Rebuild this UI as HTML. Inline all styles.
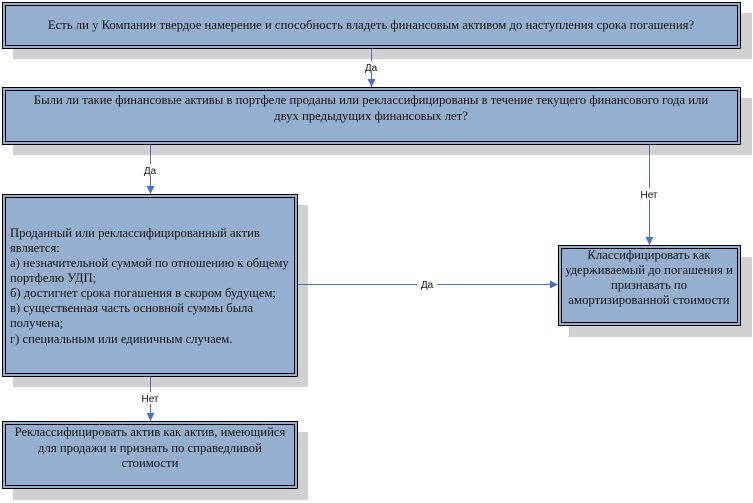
<!DOCTYPE html>
<html><head><meta charset="utf-8"><style>
html,body{margin:0;padding:0;background:#fff;}
svg{display:block}
.t{font-family:"Liberation Serif",serif;font-size:12.7px;fill:#111}
.s{font-size:12.6px}
.l{font-family:"Liberation Sans",sans-serif;font-size:10px;fill:#111}
</style></head><body>
<svg width="753" height="503" viewBox="0 0 753 503" xmlns="http://www.w3.org/2000/svg">
<defs>
<marker id="a" viewBox="0 0 10 10" refX="10" refY="5" markerWidth="8" markerHeight="8" orient="auto" markerUnits="userSpaceOnUse"><path d="M0,0 L10,5 L0,10 z" fill="#4472c4"/></marker>
</defs>
<g fill="#d0d0d0">
<rect x="13" y="13" width="739" height="46"/>
<rect x="13" y="98" width="739" height="57"/>
<rect x="13" y="205" width="295" height="182"/>
<rect x="13" y="432" width="295" height="68"/>
<rect x="569" y="257" width="183" height="80"/>
</g>
<g fill="#95afd0" stroke="#000" stroke-width="1">
<rect x="2.5" y="2.5" width="738" height="46"/>
<rect x="2.5" y="87.5" width="738" height="57"/>
<rect x="2.5" y="194.5" width="295" height="182"/>
<rect x="2.5" y="421.5" width="295" height="67"/>
<rect x="558.5" y="245.5" width="182" height="80"/>
</g>
<g fill="none" stroke="#000" stroke-width="1">
<rect x="5.5" y="5.5" width="732" height="40"/>
<rect x="5.5" y="90.5" width="732" height="51"/>
<rect x="5.5" y="197.5" width="289" height="176"/>
<rect x="5.5" y="424.5" width="289" height="61"/>
<rect x="561.5" y="248.5" width="176" height="74"/>
</g>
<g stroke="#4472c4" stroke-width="1" fill="none">
<line x1="371.5" y1="49" x2="371.5" y2="87" marker-end="url(#a)"/>
<line x1="150.5" y1="145" x2="150.5" y2="194" marker-end="url(#a)"/>
<line x1="649.5" y1="145" x2="649.5" y2="245" marker-end="url(#a)"/>
<line x1="298" y1="284.5" x2="558" y2="284.5" marker-end="url(#a)"/>
<line x1="150.5" y1="377" x2="150.5" y2="421" marker-end="url(#a)"/>
</g>
<g class="l" text-anchor="middle">
<rect x="362" y="61" width="19" height="12" fill="#fff"/>
<text x="371" y="71">Да</text>
<rect x="141" y="164" width="19" height="12" fill="#fff"/>
<text x="150" y="174">Да</text>
<rect x="638" y="188" width="22" height="12" fill="#fff"/>
<text x="649" y="198">Нет</text>
<rect x="417" y="278" width="20" height="12" fill="#fff"/>
<text x="427" y="288">Да</text>
<rect x="139" y="392" width="22" height="12" fill="#fff"/>
<text x="150" y="402">Нет</text>
</g>
<g class="t">
<text x="371" y="29" text-anchor="middle">Есть ли у Компании твердое намерение и способность владеть финансовым активом до наступления срока погашения?</text>
<text x="371" y="104" text-anchor="middle">Были ли такие финансовые активы в портфеле проданы или реклассифицированы в течение текущего финансового года или</text>
<text x="371" y="120" text-anchor="middle">двух предыдущих финансовых лет?</text>
<g class="s">
<text x="10" y="237">Проданный или реклассифицированный актив</text>
<text x="10" y="252">является:</text>
<text x="10" y="267">а) незначительной суммой по отношению к общему</text>
<text x="10" y="282">портфелю УДП;</text>
<text x="10" y="297">б) достигнет срока погашения в скором будущем;</text>
<text x="10" y="312">в) существенная часть основной суммы была</text>
<text x="10" y="327">получена;</text>
<text x="10" y="343">г) специальным или единичным случаем.</text>
</g>
<text x="150" y="436" text-anchor="middle">Реклассифицировать актив как актив, имеющийся</text>
<text x="150" y="452" text-anchor="middle">для продажи и признать по справедливой</text>
<text x="150" y="467" text-anchor="middle">стоимости</text>
<text x="649" y="259" text-anchor="middle">Классифицировать как</text>
<text x="649" y="274" text-anchor="middle">удерживаемый до погашения и</text>
<text x="649" y="289" text-anchor="middle">признавать по</text>
<text x="649" y="304" text-anchor="middle">амортизированной стоимости</text>
</g>
</svg>
</body></html>
